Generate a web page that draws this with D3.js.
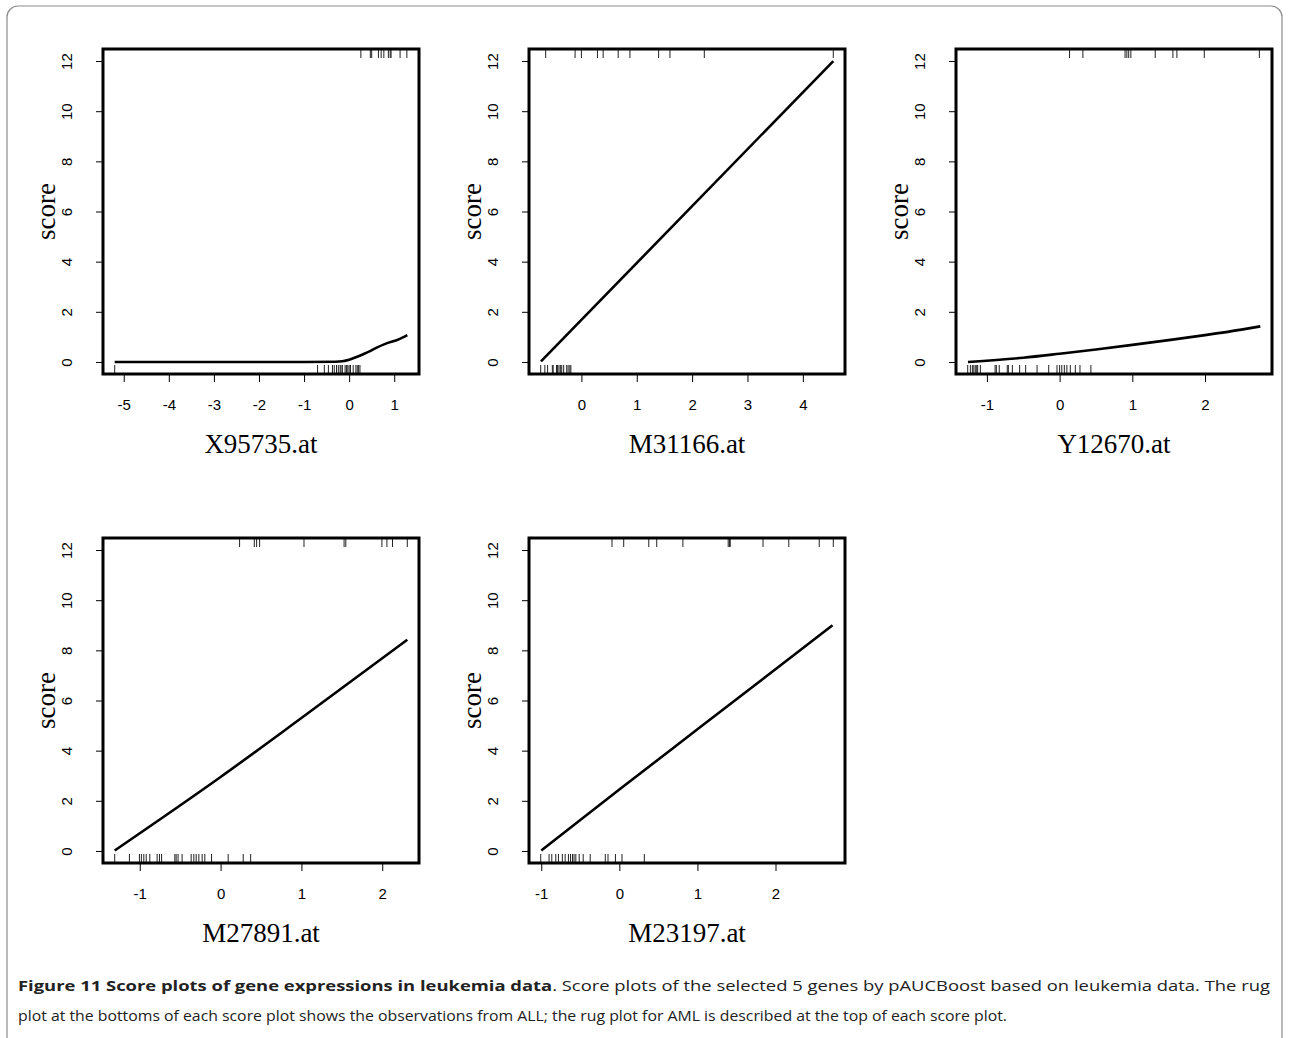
<!DOCTYPE html>
<html>
<head>
<meta charset="utf-8">
<script src="https://cdn.jsdelivr.net/npm/d3@7"></script>
<style>
  body { margin: 0; background: #fff; }
  svg { display: block; }
</style>
</head>
<body>
<div id="chart"></div>
<script>
// gene names, one per panel
var genes = ["X95735.at", "M31166.at", "Y12670.at", "M27891.at", "M23197.at"];

// score curves (x, score)
var curveX95735 = [[-5.2, 0], [-1, 0], [-0.3, 0.01], [-0.15, 0.03], [0, 0.09], [0.15, 0.19], [0.3, 0.3], [0.44, 0.41], [0.6, 0.56], [0.8, 0.72], [1.1, 0.9], [1.29, 1.07]];
var curveM31166 = [[-0.73, 0.02], [4.55, 12.0]];
var curveY12670 = [[-1.26, 0], [-0.5, 0.17], [0, 0.33], [0.5, 0.5], [1, 0.68], [1.5, 0.87], [2, 1.07], [2.5, 1.29], [2.76, 1.42]];
var curveM27891 = [[-1.31, 0.02], [0, 2.95], [1, 5.3], [2.31, 8.42]];
var curveM23197 = [[-1.0, 0.02], [0, 2.45], [1, 4.85], [2.73, 9.0]];

// rug: AML observations (top)
var amlX95735 = [0.26, 0.47, 0.5, 0.65, 0.71, 0.77, 0.87, 0.91, 0.93, 1.13, 1.28];
var amlM31166 = [-0.645, -0.114, 0, 0.29, 0.393, 0.665, 0.877, 1.395, 1.6, 2.22, 4.55];
var amlY12670 = [0.137, 0.32, 0.9, 0.925, 0.95, 0.98, 1.315, 1.558, 1.613, 1.99, 2.747];
var amlM27891 = [0.235, 0.417, 0.446, 0.483, 1.032, 1.528, 1.549, 1.996, 2.058, 2.127, 2.31];
var amlM23197 = [-0.094, 0.056, 0.377, 0.479, 0.814, 1.394, 1.41, 1.42, 1.84, 2.17, 2.56, 2.74];

// rug: ALL observations (bottom)
var allX95735 = [-5.2, -0.7, -0.55, -0.46, -0.37, -0.33, -0.28, -0.24, -0.2, -0.18, -0.15, -0.09, -0.06, -0.03, 0, 0.03, 0.09, 0.15, 0.18, 0.21, 0.24];
var allM31166 = [-0.735, -0.66, -0.61, -0.525, -0.51, -0.45, -0.43, -0.405, -0.38, -0.355, -0.32, -0.265, -0.24, -0.21, -0.19];
var allY12670 = [-1.264, -1.227, -1.2, -1.18, -1.16, -1.14, -1.127, -1.09, -0.887, -0.87, -0.83, -0.72, -0.705, -0.65, -0.55, -0.467, -0.31, -0.15, -0.036, 0, 0.03, 0.065, 0.1, 0.147, 0.216, 0.28, 0.43];
var allM27891 = [-1.31, -1.128, -1.004, -0.98, -0.95, -0.92, -0.876, -0.785, -0.756, -0.73, -0.566, -0.55, -0.526, -0.476, -0.364, -0.331, -0.302, -0.269, -0.228, -0.195, -0.112, 0.094, 0.28, 0.372];
var allM23197 = [-1.007, -0.9, -0.865, -0.814, -0.78, -0.73, -0.694, -0.652, -0.625, -0.6, -0.58, -0.557, -0.514, -0.463, -0.373, -0.18, -0.145, -0.05, 0.034, 0.32];

var curves = [curveX95735, curveM31166, curveY12670, curveM27891, curveM23197];
var amlRugs = [amlX95735, amlM31166, amlY12670, amlM27891, amlM23197];
var allRugs = [allX95735, allM31166, allY12670, allM27891, allM23197];
var yTicks = [0, 2, 4, 6, 8, 10, 12];

var width = 1289, height = 1038;

var svg = d3.select("#chart").append("svg")
    .attr("width", width)
    .attr("height", height);

// card border with rounded corners
svg.append("rect")
    .attr("x", 7).attr("y", 6)
    .attr("width", 1275).attr("height", 1100)
    .attr("rx", 11)
    .attr("fill", "none")
    .attr("stroke", "#8c8c8c")
    .attr("stroke-width", 1.2);

var colLeft = [103, 529, 956],
    rowTop = [49, 538],
    boxW = 316,
    boxH = 325;

var drawPanel = function(i) {
    var left = colLeft[i % 3],
        top = rowTop[Math.floor(i / 3)];

    // R style ranges: data extent padded by 4% on each side
    var xs = curves[i].map(function(d) { return d[0]; }).concat(amlRugs[i], allRugs[i]);
    var ext = d3.extent(xs),
        pad = (ext[1] - ext[0]) * 0.04;

    var x = d3.scaleLinear()
        .domain([ext[0] - pad, ext[1] + pad])
        .range([left, left + boxW]);
    var y = d3.scaleLinear()
        .domain([-0.48, 12.48])
        .range([top + boxH, top]);

    var g = svg.append("g");

    // score curve
    var line = d3.line()
        .x(function(d) { return x(d[0]); })
        .y(function(d) { return y(d[1]); })
        .curve(d3.curveMonotoneX);

    g.append("path")
        .datum(curves[i])
        .attr("d", line)
        .attr("fill", "none")
        .attr("stroke", "#000")
        .attr("stroke-width", 2.6);

    // rugs, ALL at the bottom and AML at the top
    var rugLen = 9;
    g.selectAll(".rug-all")
        .data(allRugs[i])
        .enter().append("line")
        .attr("x1", function(d) { return x(d); })
        .attr("x2", function(d) { return x(d); })
        .attr("y1", top + boxH)
        .attr("y2", top + boxH - rugLen)
        .attr("stroke", "#222")
        .attr("stroke-width", 1);

    g.selectAll(".rug-aml")
        .data(amlRugs[i])
        .enter().append("line")
        .attr("x1", function(d) { return x(d); })
        .attr("x2", function(d) { return x(d); })
        .attr("y1", top)
        .attr("y2", top + rugLen)
        .attr("stroke", "#222")
        .attr("stroke-width", 1);

    // box
    g.append("rect")
        .attr("x", left).attr("y", top)
        .attr("width", boxW).attr("height", boxH)
        .attr("fill", "none")
        .attr("stroke", "#000")
        .attr("stroke-width", 3);

    // x axis
    var xAxis = d3.axisBottom(x)
        .tickValues(d3.range(Math.ceil(x.domain()[0]), Math.floor(x.domain()[1]) + 1))
        .tickSize(8)
        .tickPadding(17)
        .tickFormat(d3.format("d"));

    var gx = g.append("g")
        .attr("transform", "translate(0," + (top + boxH) + ")")
        .call(xAxis);
    gx.select(".domain").remove();
    gx.selectAll("text")
        .attr("font-family", "Liberation Sans, Arial, sans-serif")
        .attr("font-size", 15)
        .attr("fill", "#000")
        .text(function(d) { return d < 0 ? "-" + Math.abs(d) : d; });

    // y axis
    var yAxis = d3.axisLeft(y)
        .tickValues(yTicks)
        .tickSize(7)
        .tickPadding(0);

    var gy = g.append("g")
        .attr("transform", "translate(" + left + ",0)")
        .call(yAxis);
    gy.select(".domain").remove();
    gy.selectAll("text")
        .attr("font-family", "Liberation Sans, Arial, sans-serif")
        .attr("font-size", 15)
        .attr("fill", "#000")
        .attr("text-anchor", "middle")
        .attr("x", 0).attr("dy", 0)
        .attr("transform", "translate(-35,0) rotate(-90)")
        .attr("dominant-baseline", "middle");

    // axis titles
    g.append("text")
        .attr("x", left + boxW / 2)
        .attr("y", top + boxH + 79)
        .attr("text-anchor", "middle")
        .attr("font-family", "Liberation Serif, Times New Roman, serif")
        .attr("font-size", 27)
        .text(genes[i]);

    g.append("text")
        .attr("transform", "translate(" + (left - 48) + "," + (top + boxH / 2) + ") rotate(-90)")
        .attr("text-anchor", "middle")
        .attr("font-family", "Liberation Serif, Times New Roman, serif")
        .attr("font-size", 27)
        .text("score");
};

for (var i = 0; i < genes.length; i++) {
    drawPanel(i);
}

// caption
var cap1 = svg.append("text")
    .attr("x", 18).attr("y", 991)
    .attr("font-family", "Open Sans, Noto Sans, sans-serif")
    .attr("font-size", 14.5)
    .attr("fill", "#222")
    .attr("textLength", 1252)
    .attr("lengthAdjust", "spacingAndGlyphs");
cap1.append("tspan").attr("font-weight", "bold").text("Figure 11 Score plots of gene expressions in leukemia data");
cap1.append("tspan").text(". Score plots of the selected 5 genes by pAUCBoost based on leukemia data. The rug");

svg.append("text")
    .attr("x", 18).attr("y", 1021)
    .attr("font-family", "Open Sans, Noto Sans, sans-serif")
    .attr("font-size", 14.5)
    .attr("fill", "#222")
    .attr("textLength", 989)
    .attr("lengthAdjust", "spacingAndGlyphs")
    .text("plot at the bottoms of each score plot shows the observations from ALL; the rug plot for AML is described at the top of each score plot.");
</script>
</body>
</html>
